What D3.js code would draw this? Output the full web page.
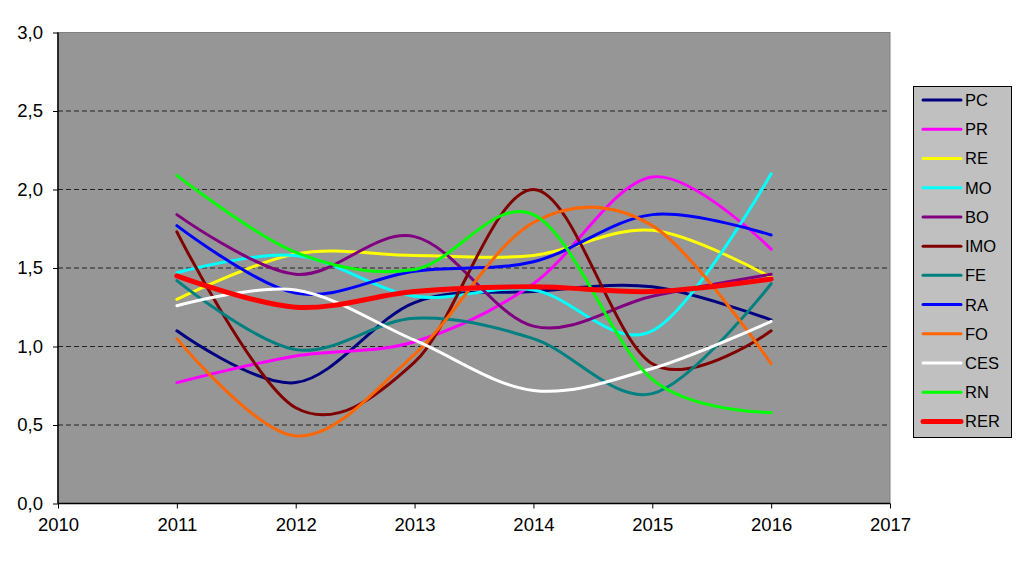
<!DOCTYPE html>
<html><head><meta charset="utf-8">
<script src="https://cdn.jsdelivr.net/npm/d3@7"></script>
<style>body{margin:0;background:#fff}svg{display:block}</style>
</head><body>
<svg id="c" width="1024" height="564"></svg>
<script>
const years = [2011, 2012, 2013, 2014, 2015, 2016];
const seriesNames = ["PC","PR","RE","MO","BO","IMO","FE","RA","FO","CES","RN","RER"];
const PC  = [1.10, 0.77, 1.28, 1.35, 1.38, 1.17];
const PR  = [0.77, 0.94, 1.03, 1.40, 2.08, 1.62];
const RE  = [1.30, 1.59, 1.58, 1.58, 1.74, 1.44];
const MO  = [1.47, 1.58, 1.32, 1.36, 1.10, 2.10];
const BO  = [1.84, 1.46, 1.70, 1.13, 1.32, 1.46];
const IMO = [1.73, 0.61, 0.90, 2.00, 0.89, 1.10];
const FE  = [1.42, 0.98, 1.18, 1.05, 0.70, 1.40];
const RA  = [1.77, 1.34, 1.48, 1.54, 1.84, 1.71];
const FO  = [1.05, 0.43, 0.95, 1.79, 1.77, 0.89];
const CES = [1.26, 1.36, 1.04, 0.72, 0.86, 1.16];
const RN  = [2.09, 1.60, 1.49, 1.84, 0.79, 0.58];
const RER = [1.45, 1.25, 1.35, 1.38, 1.35, 1.43];
const xTicks = [2010, 2011, 2012, 2013, 2014, 2015, 2016, 2017];
const yTicks = [0, 0.5, 1.0, 1.5, 2.0, 2.5, 3.0];

const values = {PC, PR, RE, MO, BO, IMO, FE, RA, FO, CES, RN, RER};
const colors = {PC:"#000080",PR:"#ff00ff",RE:"#ffff00",MO:"#00ffff",BO:"#800080",IMO:"#800000",
  FE:"#008080",RA:"#0000ff",FO:"#ff6600",CES:"#ffffff",RN:"#00ff00",RER:"#ff0000"};

const svg = d3.select("#c");
const L = 58, R = 890, T = 32.5, B = 503.5;
const x = d3.scaleLinear().domain([2010, 2017]).range([L, R]);
const y = d3.scaleLinear().domain([0, 3]).range([B, T]);
const font = "'Liberation Sans', Arial, sans-serif";

svg.append("rect").attr("x", L).attr("y", T).attr("width", R - L).attr("height", B - T)
  .attr("fill", "#969696").attr("stroke", "#808080").attr("stroke-width", 1);

// grid
svg.append("g").selectAll("line").data(yTicks.filter(v => v > 0 && v < 3)).join("line")
  .attr("x1", L).attr("x2", R).attr("y1", d => y(d)).attr("y2", d => y(d))
  .attr("stroke", "#222").attr("stroke-width", 1).attr("stroke-dasharray", "5,3");

// axes
const yAxis = d3.axisLeft(y).tickValues(yTicks).tickSize(5).tickPadding(10)
  .tickFormat(d => d3.format(".1f")(d).replace(".", ","));
const gy = svg.append("g").attr("transform", `translate(${L},0)`).call(yAxis);
const xAxis = d3.axisBottom(x).tickValues(xTicks).tickSize(5).tickPadding(9).tickFormat(d3.format("d"));
const gx = svg.append("g").attr("transform", `translate(0,${B})`).call(xAxis);
[gy, gx].forEach(g => {
  g.select(".domain").attr("stroke", "#000").attr("stroke-width", 1.5);
  g.selectAll(".tick line").attr("stroke", "#000");
  g.selectAll("text").attr("font-family", font).attr("font-size", 18.5).attr("fill", "#000");
});
gy.select(".domain").attr("d", `M0,${T}V${B}`);
gx.select(".domain").attr("d", `M${L},0H${R}`);

// lines
const line = d3.line().x((d, i) => x(years[i])).y(d => y(d)).curve(d3.curveCatmullRom.alpha(0));
svg.append("g").selectAll("path").data(seriesNames).join("path")
  .attr("d", k => line(values[k]))
  .attr("fill", "none").attr("stroke", k => colors[k])
  .attr("stroke-width", k => k === "RER" ? 5 : 3)
  .attr("stroke-linecap", "round").attr("stroke-linejoin", "round");

// legend
const lg = svg.append("g");
lg.append("rect").attr("x", 913.5).attr("y", 86.5).attr("width", 98).attr("height", 351)
  .attr("fill", "#c0c0c0").attr("stroke", "#000").attr("stroke-width", 1);
const ly = d3.scalePoint().domain(seriesNames).range([100, 421.5]);
const items = lg.selectAll("g").data(seriesNames).join("g")
  .attr("transform", k => `translate(0,${ly(k)})`);
items.append("line").attr("x1", 923).attr("x2", 961).attr("y1", 0).attr("y2", 0)
  .attr("stroke", k => colors[k]).attr("stroke-width", k => k === "RER" ? 5 : 3)
  .attr("stroke-linecap", "round");
items.append("text").attr("x", 965).attr("y", 0).attr("dy", "0.36em")
  .attr("font-family", font).attr("font-size", 16.5).attr("fill", "#000").text(k => k);
</script>
</body></html>
